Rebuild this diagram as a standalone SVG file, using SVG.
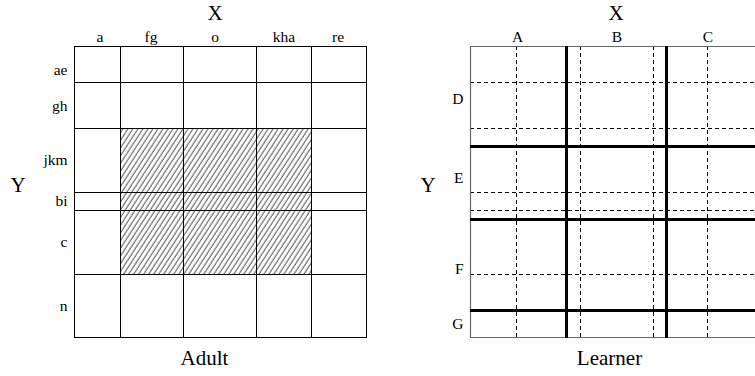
<svg xmlns="http://www.w3.org/2000/svg" width="755" height="376" viewBox="0 0 755 376">
<style>
text{font-family:"Liberation Serif","Times New Roman",serif;fill:#000}
.big{font-size:21px;text-anchor:middle}
.col{font-size:15.5px;text-anchor:middle}
.row{font-size:15.5px;text-anchor:end}
.thin{stroke:#000;stroke-width:1;fill:none}
.border{stroke:#666;stroke-width:1.2;fill:none}
.thick{stroke:#000;stroke-width:3;fill:none}
.dash{stroke:#000;stroke-width:1;stroke-dasharray:4,3;fill:none}
</style>
<defs>
<pattern id="hatch" width="4.2" height="10" patternUnits="userSpaceOnUse" patternTransform="rotate(33)">
<line x1="1" y1="0" x2="1" y2="10" stroke="#111" stroke-width="0.8"/>
</pattern>
</defs>
<g id="adult">
<rect x="120.5" y="128.5" width="191" height="146" fill="url(#hatch)"/>
<rect class="thin" x="74.5" y="46.5" width="292" height="291"/>
<path class="thin" d="M120.5 46V338M183.5 46V338M256.5 46V338M311.5 46V338M74 82.5H367M74 128.5H367M74 192.5H367M74 210.5H367M74 274.5H367"/>
<text class="big" x="215" y="20">X</text>
<text class="big" x="18" y="192">Y</text>
<text class="big" x="204.5" y="365">Adult</text>
<text class="col" x="100" y="42">a</text>
<text class="col" x="151" y="42">fg</text>
<text class="col" x="215" y="42">o</text>
<text class="col" x="284" y="42">kha</text>
<text class="col" x="338" y="42">re</text>
<text class="row" x="67.5" y="75">ae</text>
<text class="row" x="67.5" y="111">gh</text>
<text class="row" x="67.5" y="165">jkm</text>
<text class="row" x="67.5" y="206">bi</text>
<text class="row" x="67.5" y="247">c</text>
<text class="row" x="67.5" y="311">n</text>
</g>
<g id="learner">
<path class="dash" d="M516.5 46V338M580.5 46V338M653.5 46V338M707.5 46V338M470 82.5H755M470 128.5H755M470 192.5H755M470 210.5H755M470 274.5H755"/>
<path class="border" d="M755 46.5H470.5V337.5H755"/>
<path class="thick" d="M566.5 46V338M666.5 46V338M470 146.5H755M470 219.5H755M470 310.5H755"/>
<text class="big" x="616" y="20">X</text>
<text class="big" x="428" y="192">Y</text>
<text class="big" x="609.5" y="365">Learner</text>
<text class="col" x="517.5" y="42">A</text>
<text class="col" x="617" y="42">B</text>
<text class="col" x="708" y="42">C</text>
<text class="row" x="463.5" y="104">D</text>
<text class="row" x="463.5" y="183">E</text>
<text class="row" x="463.5" y="274">F</text>
<text class="row" x="463.5" y="329">G</text>
</g>
</svg>
